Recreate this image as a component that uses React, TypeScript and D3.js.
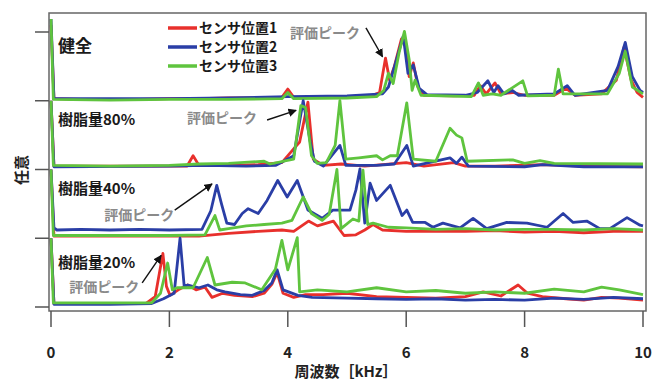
import * as d3 from "d3";

const width = 654;
const height = 382;
const margin = { top: 13, right: 8, bottom: 71, left: 49 };

type Pt = [number, number];

// 周波数 [kHz], 振幅 (各パネルの基準線からの相対値)
const healthyS1: Pt[] = [[0, 1.1], [0.05, 0.03], [0.5, 0.02], [1, 0.02], [1.5, 0.02], [2, 0.03], [2.5, 0.03], [3, 0.04], [3.5, 0.04], [3.9, 0.05], [4.0, 0.17], [4.1, 0.05], [4.5, 0.05], [5, 0.06], [5.4, 0.07], [5.55, 0.12], [5.65, 0.62], [5.72, 0.3], [5.8, 0.5], [5.92, 0.9], [6.0, 0.8], [6.05, 0.35], [6.12, 0.55], [6.2, 0.2], [6.3, 0.08], [6.8, 0.07], [7.15, 0.08], [7.25, 0.22], [7.35, 0.1], [7.5, 0.26], [7.6, 0.1], [7.8, 0.12], [8.0, 0.08], [8.5, 0.08], [8.7, 0.18], [8.85, 0.08], [9.3, 0.1], [9.55, 0.3], [9.68, 0.78], [9.8, 0.3], [9.9, 0.12], [10, 0.05]];
const healthyS2: Pt[] = [[0, 1.19], [0.05, 0.03], [1, 0.03], [2, 0.03], [3, 0.04], [4.0, 0.06], [5, 0.07], [5.6, 0.1], [5.7, 0.2], [5.82, 0.55], [5.95, 0.94], [6.03, 0.4], [6.12, 0.52], [6.22, 0.18], [6.35, 0.09], [7.0, 0.08], [7.2, 0.12], [7.38, 0.29], [7.48, 0.12], [7.55, 0.22], [7.65, 0.1], [7.79, 0.15], [7.9, 0.08], [8.5, 0.1], [8.72, 0.22], [8.85, 0.08], [9.4, 0.15], [9.58, 0.5], [9.7, 0.85], [9.82, 0.35], [9.95, 0.15], [10, 0.12]];
const healthyS3: Pt[] = [[0, 1.19], [0.04, 0.02], [1, 0.01], [2, 0.02], [3, 0.02], [3.9, 0.03], [4.0, 0.12], [4.1, 0.03], [5, 0.04], [5.5, 0.06], [5.62, 0.15], [5.7, 0.4], [5.78, 0.25], [5.88, 0.7], [5.97, 1.01], [6.05, 0.6], [6.1, 0.15], [6.15, 0.3], [6.25, 0.08], [7.1, 0.06], [7.22, 0.26], [7.3, 0.08], [7.45, 0.1], [7.6, 0.08], [7.97, 0.29], [8.05, 0.07], [8.5, 0.08], [8.57, 0.46], [8.65, 0.1], [9.4, 0.1], [9.6, 0.4], [9.7, 0.72], [9.82, 0.2], [10, 0.1]];

const resin80S1: Pt[] = [[0, 1.0], [0.05, 0.05], [1, 0.05], [2, 0.05], [2.3, 0.05], [2.4, 0.2], [2.5, 0.06], [3, 0.06], [3.5, 0.07], [3.9, 0.1], [4.07, 0.27], [4.2, 0.4], [4.34, 0.98], [4.43, 0.15], [4.6, 0.06], [4.9, 0.08], [5.3, 0.05], [6.0, 0.1], [6.3, 0.05], [6.8, 0.1], [7.0, 0.05], [7.5, 0.05], [8.3, 0.07], [9, 0.05], [10, 0.04]];
const resin80S2: Pt[] = [[0, 1.0], [0.05, 0.04], [2, 0.05], [2.6, 0.06], [3.3, 0.05], [3.8, 0.06], [4.1, 0.2], [4.26, 1.0], [4.38, 0.4], [4.45, 0.12], [4.6, 0.05], [4.88, 0.35], [4.98, 0.06], [5.5, 0.06], [5.8, 0.08], [6.01, 0.35], [6.12, 0.05], [6.74, 0.17], [6.85, 0.09], [6.94, 0.18], [7.05, 0.05], [8, 0.04], [8.3, 0.07], [9, 0.04], [10, 0.04]];
const resin80S3: Pt[] = [[0, 1.0], [0.04, 0.06], [1, 0.05], [2, 0.06], [2.5, 0.08], [3, 0.09], [3.6, 0.12], [3.7, 0.08], [4.1, 0.15], [4.22, 0.93], [4.3, 0.9], [4.4, 0.2], [4.5, 0.09], [4.65, 0.1], [4.8, 0.35], [4.88, 1.0], [4.98, 0.15], [5.2, 0.17], [5.5, 0.2], [5.6, 0.14], [5.73, 0.2], [5.85, 0.2], [6.01, 0.97], [6.12, 0.15], [6.5, 0.12], [6.74, 0.6], [6.85, 0.5], [6.94, 0.46], [7.03, 0.12], [7.8, 0.14], [8.0, 0.09], [8.26, 0.13], [8.5, 0.09], [10, 0.08]];

const resin40S1: Pt[] = [[0, 1.0], [0.05, 0.03], [1, 0.03], [2, 0.03], [2.5, 0.03], [3, 0.07], [3.5, 0.1], [3.9, 0.12], [4.1, 0.1], [4.35, 0.25], [4.5, 0.18], [4.77, 0.25], [4.95, 0.04], [5.15, 0.05], [5.3, 0.12], [5.44, 0.2], [5.6, 0.12], [6, 0.1], [6.5, 0.1], [7, 0.1], [7.5, 0.11], [8, 0.09], [8.5, 0.1], [9, 0.08], [9.5, 0.1], [10, 0.1]];
const resin40S2: Pt[] = [[0, 1.0], [0.05, 0.15], [0.1, 0.12], [0.5, 0.13], [1, 0.12], [1.5, 0.13], [2, 0.12], [2.55, 0.13], [2.7, 0.4], [2.8, 0.77], [2.88, 0.5], [2.97, 0.22], [3.1, 0.2], [3.23, 0.36], [3.33, 0.43], [3.5, 0.36], [3.65, 0.55], [3.83, 0.84], [3.99, 0.6], [4.16, 0.84], [4.34, 0.41], [4.58, 0.29], [4.76, 0.41], [5.05, 0.41], [5.15, 0.7], [5.22, 1.01], [5.3, 0.22], [5.39, 0.8], [5.5, 0.55], [5.73, 0.77], [5.93, 0.33], [6.01, 0.41], [6.11, 0.23], [6.32, 0.23], [6.45, 0.16], [6.62, 0.22], [6.91, 0.15], [7.13, 0.29], [7.36, 0.14], [7.7, 0.23], [8.04, 0.22], [8.38, 0.16], [8.65, 0.36], [8.82, 0.23], [9.05, 0.25], [9.27, 0.14], [9.44, 0.14], [9.73, 0.3], [9.95, 0.19], [10, 0.18]];
const resin40S3: Pt[] = [[0, 1.0], [0.04, 0.04], [1, 0.04], [2, 0.04], [2.6, 0.05], [2.77, 0.33], [2.85, 0.12], [3.0, 0.14], [3.3, 0.18], [3.6, 0.2], [3.9, 0.22], [4.07, 0.26], [4.26, 0.6], [4.4, 0.36], [4.58, 0.26], [4.7, 0.35], [4.83, 1.0], [4.9, 0.14], [5.1, 0.28], [5.2, 0.25], [5.27, 0.99], [5.35, 0.2], [5.44, 0.22], [5.7, 0.16], [6, 0.15], [6.5, 0.13], [7, 0.14], [7.5, 0.12], [8, 0.13], [8.5, 0.13], [9, 0.12], [9.5, 0.14], [10, 0.12]];

const resin20S1: Pt[] = [[0, 1.0], [0.05, 0.05], [1, 0.05], [1.6, 0.05], [1.76, 0.15], [1.89, 0.78], [1.95, 0.3], [2.01, 0.17], [2.15, 0.25], [2.31, 0.32], [2.45, 0.25], [2.6, 0.29], [2.72, 0.14], [2.9, 0.2], [3.1, 0.17], [3.4, 0.15], [3.6, 0.2], [3.73, 0.33], [3.82, 0.5], [3.92, 0.2], [4.1, 0.14], [4.3, 0.18], [4.6, 0.18], [5, 0.2], [5.5, 0.15], [6, 0.14], [6.5, 0.13], [7, 0.15], [7.3, 0.22], [7.6, 0.16], [7.89, 0.32], [8.05, 0.2], [8.3, 0.15], [8.7, 0.12], [9, 0.1], [9.3, 0.14], [9.6, 0.13], [10, 0.1]];
const resin20S2: Pt[] = [[0, 1.0], [0.05, 0.04], [1, 0.04], [1.7, 0.05], [1.9, 0.12], [2.08, 0.2], [2.18, 1.0], [2.25, 0.3], [2.31, 0.32], [2.5, 0.28], [2.65, 0.32], [2.8, 0.25], [2.94, 0.22], [3.2, 0.18], [3.4, 0.17], [3.6, 0.24], [3.73, 0.35], [3.82, 0.54], [3.92, 0.25], [4.17, 0.17], [4.41, 0.14], [5, 0.13], [5.5, 0.12], [6, 0.11], [6.5, 0.12], [7, 0.1], [7.5, 0.11], [8, 0.1], [8.5, 0.13], [9, 0.11], [9.5, 0.14], [10, 0.12]];
const resin20S3: Pt[] = [[0, 1.0], [0.04, 0.06], [1, 0.06], [1.7, 0.06], [1.85, 0.2], [1.97, 0.64], [2.05, 0.25], [2.13, 0.28], [2.4, 0.28], [2.64, 0.72], [2.77, 0.32], [3.06, 0.36], [3.28, 0.35], [3.56, 0.25], [3.79, 0.55], [3.9, 0.97], [4.0, 0.54], [4.16, 1.01], [4.2, 0.22], [4.5, 0.25], [5, 0.22], [5.5, 0.28], [6, 0.22], [6.5, 0.24], [7, 0.2], [7.5, 0.22], [8, 0.2], [8.5, 0.26], [9, 0.22], [9.3, 0.29], [9.6, 0.25], [10, 0.18]];

const panelLabels = ["健全", "樹脂量80%", "樹脂量40%", "樹脂量20%"];
const panelOffsets = [3, 2, 1, 0];
const panelSeries = [
  [healthyS1, healthyS2, healthyS3],
  [resin80S1, resin80S2, resin80S3],
  [resin40S1, resin40S2, resin40S3],
  [resin20S1, resin20S2, resin20S3],
];

const sensorNames = ["センサ位置1", "センサ位置2", "センサ位置3"];
const sensorColors = ["#e8302c", "#2a3ea6", "#5fc43e"];

const xTicks = [0, 2, 4, 6, 8, 10];
const yTicks = [0, 1, 2, 3, 4];

// 評価ピーク: ラベル中心 / 矢印の始点・先端 (kHz, 軸の値)
const peakNotes = [
  { label: [4.63, 3.99], from: [5.32, 4.06], to: [5.6, 3.64] },
  { label: [2.89, 2.75], from: [3.65, 2.72], to: [4.14, 2.86] },
  { label: [1.49, 1.34], from: [2.09, 1.41], to: [2.72, 1.79] },
  { label: [0.9, 0.29], from: [1.54, 0.35], to: [1.86, 0.75] },
];

// 各パネル名の縦位置 (上の目盛からのずれ, px)
const labelDy = [14, 19, 19, 24];

export default function App() {
  const x = d3
    .scaleLinear()
    .domain([0, 10])
    .range([51, width - margin.right - 3]);
  const y = d3
    .scaleLinear()
    .domain([0, 4])
    .range([307, 32]);

  const line = d3
    .line<Pt>()
    .x((d) => x(d[0]))
    .y((d) => y(d[1]));

  const font = "'Noto Sans CJK JP', 'Noto Sans', sans-serif";
  const plotRight = width - margin.right;
  const plotBottom = height - margin.bottom;

  return (
    <svg
      width={width}
      height={height}
      style={{ position: "absolute", left: 0, top: 0, background: "#fff" }}
      fontFamily={font}
    >
      <defs>
        <marker id="arrow" viewBox="0 0 10 10" refX="9" refY="5" markerWidth="6" markerHeight="6" orient="auto">
          <path d="M0,0 L10,5 L0,10 z" fill="#111" />
        </marker>
        <clipPath id="plot-clip">
          <rect x={margin.left} y={margin.top} width={plotRight - margin.left} height={plotBottom - margin.top} />
        </clipPath>
      </defs>

      {/* traces */}
      <g clipPath="url(#plot-clip)" fill="none" strokeWidth={2.8} strokeLinejoin="round">
        {panelSeries.map((series, p) =>
          series.map((pts, s) => (
            <path
              key={`${p}-${s}`}
              d={line(pts.map((d) => [d[0], d[1] + panelOffsets[p]] as Pt)) ?? ""}
              stroke={sensorColors[s]}
            />
          )),
        )}
      </g>

      {/* frame */}
      <rect
        x={margin.left}
        y={margin.top}
        width={plotRight - margin.left}
        height={plotBottom - margin.top}
        fill="none"
        stroke="#666"
        strokeWidth={1.5}
      />

      {/* y ticks */}
      {yTicks.map((t) => (
        <line key={t} x1={35} x2={margin.left} y1={y(t)} y2={y(t)} stroke="#555" strokeWidth={1.5} />
      ))}

      {/* x ticks */}
      {xTicks.map((t) => (
        <g key={t}>
          <line x1={x(t)} x2={x(t)} y1={plotBottom} y2={plotBottom + 16} stroke="#555" strokeWidth={1.5} />
          <text x={x(t)} y={plotBottom + 47} textAnchor="middle" fontSize={15} fontWeight={700} fill="#222">
            {t}
          </text>
        </g>
      ))}

      <text x={346} y={377} textAnchor="middle" fontSize={15} fontWeight={700} fill="#222">
        周波数［kHz］
      </text>
      <text
        transform="translate(27, 170) rotate(-90)"
        textAnchor="middle"
        fontSize={15}
        fontWeight={700}
        fill="#222"
      >
        任意
      </text>

      {/* panel labels */}
      {panelLabels.map((label, i) => (
        <text
          key={label}
          x={58}
          y={y(panelOffsets[i] + 1) + labelDy[i]}
          dy="0.35em"
          fontSize={i === 0 ? 17 : 15}
          fontWeight={700}
          fill="#1a1a1a"
        >
          {label}
        </text>
      ))}

      {/* 評価ピーク */}
      {peakNotes.map((n, i) => (
        <g key={i}>
          <text
            x={x(n.label[0])}
            y={y(n.label[1])}
            dy="0.35em"
            textAnchor="middle"
            fontSize={14}
            fontWeight={700}
            fill="#8a8a8a"
          >
            評価ピーク
          </text>
          <line
            x1={x(n.from[0])}
            y1={y(n.from[1])}
            x2={x(n.to[0])}
            y2={y(n.to[1])}
            stroke="#111"
            strokeWidth={1.4}
            markerEnd="url(#arrow)"
          />
        </g>
      ))}

      {/* legend */}
      {sensorNames.map((name, i) => (
        <g key={name} transform={`translate(168, ${28 + i * 19})`}>
          <line x1={0} x2={29} y1={0} y2={0} stroke={sensorColors[i]} strokeWidth={3.5} />
          <text x={31} y={5} fontSize={14} fontWeight={700} fill="#1a1a1a">
            {name}
          </text>
        </g>
      ))}
    </svg>
  );
}
